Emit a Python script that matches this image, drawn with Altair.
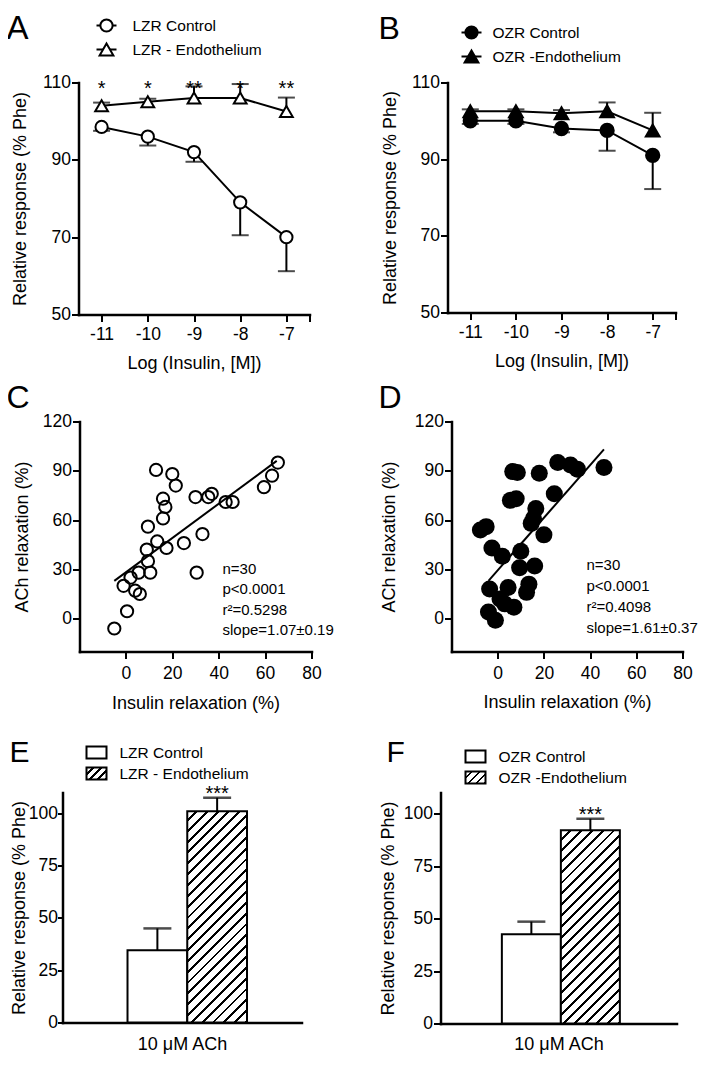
import altair as alt
import pandas as pd

FONT = "Liberation Sans"
BLACK = "#000000"

# ---------------- data ----------------
log_conc = [-11, -10, -9, -8, -7]

lzr_names = ["LZR Control", "LZR - Endothelium"]
lzr_ctrl = [98.5, 96.0, 92.0, 79.0, 70.0]
lzr_ctrl_sem = [1.0, 2.3, 2.5, 8.5, 8.8]
lzr_endo = [104.0, 105.0, 106.0, 106.0, 102.5]
lzr_endo_sem = [0.8, 0.8, 3.0, 3.6, 3.6]
lzr_stars = ["*", "*", "**", "*", "**"]

ozr_names = ["OZR Control", "OZR -Endothelium"]
ozr_ctrl = [100.0, 100.0, 98.0, 97.5, 91.0]
ozr_ctrl_sem = [0.8, 0.8, 1.0, 5.3, 8.8]
ozr_endo = [102.5, 102.5, 102.0, 102.5, 97.5]
ozr_endo_sem = [0.5, 0.5, 0.8, 2.3, 4.6]

c_insulin = [-5, 0.5, -1, 4, 6, 2, 5.5, 10.5, 9.5, 9, 9.5, 13.5, 17.5, 16, 17,
             16, 13, 20, 21.5, 25, 30, 30.5, 33, 35.5, 37, 43, 46, 59.5, 63, 65.5]
c_ach = [-6, 4.5, 20, 17, 15, 25, 28, 28, 35, 42, 56, 47, 43, 61, 68,
         73, 90.5, 88, 81, 46, 74, 28, 51.5, 74, 76, 71, 71, 80, 87, 95]
c_fit_x = [-5, 65]
c_fit_y = [23, 96]
c_stats = ["n=30", "p<0.0001", "r²=0.5298", "slope=1.07±0.19"]

d_insulin = [6.5, 18, 26, 31.5, 46, 5.5, 8, 24.5, 16.5, 14.5, -7.5, -5, 20, -2.5, 2,
             10, 9.5, 16, -3.5, 4.5, 12.5, 13.5, 3, 7, -4, -1, 34.5, 8.5, 15.5, 1]
d_ach = [89.5, 88.5, 95, 93.5, 92, 72, 73, 76, 67, 58, 54, 56, 51, 43, 38,
         41, 31, 32, 18, 19, 16, 21, 9, 7, 4, -1, 91, 89, 61, 12]
d_fit_x = [-4, 46]
d_fit_y = [23, 103]
d_stats = ["n=30", "p<0.0001", "r²=0.4098", "slope=1.61±0.37"]

e_groups = ["LZR Control", "LZR - Endothelium"]
e_mean = [34.5, 101.0]
e_sem = [10.5, 6.5]
e_stars = ["", "***"]

f_groups = ["OZR Control", "OZR -Endothelium"]
f_mean = [42.5, 92.0]
f_sem = [6.0, 5.5]
f_stars = ["", "***"]

ONE = pd.DataFrame({"k": [0]})


# ---------------- helpers ----------------
def txt(text, x, y, size, align="left", baseline="middle"):
    return alt.Chart(ONE).mark_text(
        text=text, fontSize=size, align=align, baseline=baseline, color=BLACK, font=FONT
    ).encode(x=alt.value(x), y=alt.value(y))


def hatch(W, H, period=11.0, frac=0.27):
    n = max(1, int(round((W + H) / period)))
    k = (W + H) / (W * W + H * H)
    stops = []
    for i in range(n):
        a = i / n
        b = (i + 1 - frac) / n
        c = (i + 1) / n
        stops += [
            {"offset": a, "color": "white"},
            {"offset": b, "color": "white"},
            {"offset": b, "color": "black"},
            {"offset": c, "color": "black"},
        ]
    return {"gradient": "linear", "x1": 0, "y1": 0, "x2": k * W, "y2": k * H, "stops": stops}


def anchor(x, y):
    # invisible mark that fixes the top-left extent of the whole figure
    return alt.Chart(ONE).mark_rule(strokeOpacity=0, strokeWidth=1, color="white").encode(
        x=alt.value(x), x2=alt.value(x), y=alt.value(y), y2=alt.value(y + 1))


def curve_panel(ctrl, ctrl_sem, endo, endo_sem, names, open_marker, stars,
                w, h, ox, ytp, leg_mx, leg_tx, leg_y, let, let_size, let_x, let_y, extra=None):
    df = pd.DataFrame({
        "conc": log_conc * 2,
        "group": [names[0]] * 5 + [names[1]] * 5,
        "mean": ctrl + endo,
        "end": [m - s for m, s in zip(ctrl, ctrl_sem)] + [m + s for m, s in zip(endo, endo_sem)],
    })
    xs = alt.Scale(domain=[-11.5, -6.5], nice=False, zero=False, range=[ox, ox + w])
    ys = alt.Scale(domain=[50, 110], nice=False, zero=False, range=[h, 0])
    xax = alt.Axis(values=[-11, -10, -9, -8, -7, -6.5],
                   labelExpr="datum.value == -6.5 ? '' : '-' + abs(datum.value)",
                   title="Log (Insulin, [M])", titlePadding=11, labelPadding=4)
    yax = alt.Axis(values=[50, 70, 90, 110], title="Relative response (% Phe)",
                   titlePadding=ytp, labelPadding=1, offset=-ox)
    X = alt.X("conc:Q", scale=xs, axis=xax)
    Ym = alt.Y("mean:Q", scale=ys, axis=yax)
    base = alt.Chart(df)
    err = base.mark_rule(color=BLACK, strokeWidth=2).encode(x=X, y=Ym, y2="end:Q")
    cap = base.mark_tick(color=BLACK, orient="horizontal", size=17, thickness=2).encode(
        x=X, y=alt.Y("end:Q", scale=ys, axis=yax))
    line = base.mark_line(color=BLACK, strokeWidth=2).encode(x=X, y=Ym, detail="group:N")
    fill = "white" if open_marker else BLACK
    shape_scale = alt.Scale(domain=names, range=["circle", "triangle-up"])
    size_scale = alt.Scale(domain=names, range=[150, 190])
    pts = base.mark_point(filled=True, fill=fill, stroke=BLACK, strokeWidth=2, opacity=1).encode(
        x=X, y=Ym,
        shape=alt.Shape("group:N", scale=shape_scale, legend=None),
        size=alt.Size("group:N", scale=size_scale, legend=None),
    )
    layers = [err, cap, line, pts]
    if stars:
        sdf = pd.DataFrame({"conc": log_conc, "star": stars})
        layers.append(alt.Chart(sdf).mark_text(fontSize=20, baseline="alphabetic", color=BLACK).encode(
            x=X, y=alt.value(12), text="star:N"))
    shapes = ["circle", "triangle-up"]
    sizes = [150, 190]
    for i, nm in enumerate(names):
        yy = leg_y[i]
        layers.append(alt.Chart(ONE).mark_rule(color=BLACK, strokeWidth=2).encode(
            x=alt.value(ox + leg_mx - 10), x2=alt.value(ox + leg_mx + 10), y=alt.value(yy)))
        layers.append(alt.Chart(ONE).mark_point(
            shape=shapes[i], size=sizes[i], filled=True, fill=fill, stroke=BLACK, strokeWidth=2, opacity=1
        ).encode(x=alt.value(ox + leg_mx), y=alt.value(yy)))
        layers.append(txt(nm, ox + leg_tx, yy, 15.5))
    layers.append(txt(let, ox + let_x, let_y, let_size, baseline="alphabetic"))
    if extra is not None:
        layers.append(extra)
    return alt.layer(*layers).properties(width=ox + w, height=h)


def scatter_panel(xv, yv, fx, fy, stats, open_marker, size, w, h, ox, extra_h, ytp, xtp,
                  st_x, st_y, st_dy, let, let_size, let_x, let_y):
    df = pd.DataFrame({"ins": xv, "ach": yv})
    fit = pd.DataFrame({"ins": fx, "ach": fy})
    xs = alt.Scale(domain=[-20, 80], nice=False, zero=False, range=[ox, ox + w])
    ys = alt.Scale(domain=[-20, 120], nice=False, zero=False, range=[h, 0])
    xax = alt.Axis(values=[0, 20, 40, 60, 80], title="Insulin relaxation (%)",
                   titlePadding=xtp, labelPadding=6, offset=-extra_h)
    yax = alt.Axis(values=[0, 30, 60, 90, 120], title="ACh relaxation (%)",
                   titlePadding=ytp, labelPadding=1, offset=-ox)
    X = alt.X("ins:Q", scale=xs, axis=xax)
    Y = alt.Y("ach:Q", scale=ys, axis=yax)
    if open_marker:
        pts = alt.Chart(df).mark_point(shape="circle", size=size, filled=False, stroke=BLACK,
                                       strokeWidth=2, opacity=1).encode(x=X, y=Y)
    else:
        pts = alt.Chart(df).mark_point(shape="circle", size=size, filled=True, fill=BLACK,
                                       opacity=1).encode(x=X, y=Y)
    line = alt.Chart(fit).mark_line(color=BLACK, strokeWidth=2).encode(x=X, y=Y)
    layers = [pts, line]
    for i, s in enumerate(stats):
        layers.append(txt(s, ox + st_x, st_y + i * st_dy, 15))
    layers.append(txt(let, ox + let_x, let_y, let_size, baseline="alphabetic"))
    return alt.layer(*layers).properties(width=ox + w, height=h + extra_h)


def bar_panel(groups, mean, sem, stars, w, h, align, ytp, xtp, ytick, ylp,
              leg_x, leg_y, leg_tx, let, let_size, let_x, let_y):
    po = 1.0
    df = pd.DataFrame({
        "group": groups, "mean": mean,
        "end": [m + s for m, s in zip(mean, sem)], "star": stars,
    })
    xs = alt.Scale(domain=groups, paddingInner=0, paddingOuter=po, align=align)
    ys = alt.Scale(domain=[0, 110], nice=False, zero=True)
    xax = alt.Axis(labels=False, ticks=False, title="10 μM ACh", titlePadding=xtp)
    yax = alt.Axis(values=[0, 25, 50, 75, 100], title="Relative response (% Phe)",
                   titlePadding=ytp, labelPadding=ylp, tickSize=ytick)
    X = alt.X("group:N", scale=xs, axis=xax, sort=groups)
    Xc = alt.X("group:N", scale=xs, axis=xax, sort=groups, bandPosition=0.5)
    Ym = alt.Y("mean:Q", scale=ys, axis=yax)
    bw = w / (2 + 2 * po)
    hgt = mean[1] / 110.0 * h
    base = alt.Chart(df)
    ctrl = base.transform_filter(alt.datum.group == groups[0]).mark_bar(
        fill="white", stroke=BLACK, strokeWidth=2).encode(x=X, y=Ym)
    endo = base.transform_filter(alt.datum.group == groups[1]).mark_bar(
        fill=hatch(bw, hgt), stroke=BLACK, strokeWidth=2).encode(x=X, y=Ym)
    err = base.mark_rule(color=BLACK, strokeWidth=2).encode(x=Xc, y=Ym, y2="end:Q")
    cap = base.mark_tick(color=BLACK, orient="horizontal", size=28, thickness=2.5).encode(
        x=Xc, y=alt.Y("end:Q", scale=ys, axis=yax))
    st = base.mark_text(fontSize=20, baseline="alphabetic", dy=2, color=BLACK).encode(
        x=Xc, y=alt.Y("end:Q", scale=ys, axis=yax), text="star:N")
    layers = [ctrl, endo, err, cap, st]
    # manual legend
    sw, sh = 20, 12
    fills = ["white", hatch(sw, sh, period=8.0, frac=0.3)]
    for i, nm in enumerate(groups):
        yy = leg_y[i]
        layers.append(alt.Chart(ONE).mark_rect(fill=fills[i], stroke=BLACK, strokeWidth=2).encode(
            x=alt.value(leg_x), x2=alt.value(leg_x + sw),
            y=alt.value(yy - sh / 2), y2=alt.value(yy + sh / 2)))
        layers.append(txt(nm, leg_tx, yy, 15.5))
    layers.append(txt(let, let_x, let_y, let_size, baseline="alphabetic"))
    return alt.layer(*layers).properties(width=w, height=h)


# ---------------- panels ----------------
A = curve_panel(lzr_ctrl, lzr_ctrl_sem, lzr_endo, lzr_endo_sem, lzr_names, True, lzr_stars,
                231, 232, 16, 13, 28, 54, [-57, -33], "A", 33, -72, -44, extra=anchor(-62, -90))
B = curve_panel(ozr_ctrl, ozr_ctrl_sem, ozr_endo, ozr_endo_sem, ozr_names, False, None,
                228, 230, 7, 12, 24, 45, [-50, -26], "B", 32, -69, -44)
C = scatter_panel(c_insulin, c_ach, c_fit_x, c_fit_y, c_stats, True, 150, 232, 230, 17, 34, 11, 12,
                  143, 147, 20.5, "C", 32, -73, -14)
D = scatter_panel(d_insulin, d_ach, d_fit_x, d_fit_y, d_stats, False, 290, 231, 230, 11, 34, 16, 11,
                  135, 143, 21, "D", 32, -73, -14)
E = bar_panel(e_groups, e_mean, e_sem, e_stars, 239, 230, 0.544, 0, 13, 5, 0,
              24, [-40, -19], 57, "E", 30, -53, -31)
F = bar_panel(f_groups, f_mean, f_sem, f_stars, 236, 231, 0.52, 6, 12, 7, 1,
              25, [-36, -15], 58, "F", 30, -54, -31)

chart = alt.concat(
    A, B, C, D, E, F, columns=2,
    spacing={"row": 107, "column": 129}, bounds="flush", align="each",
).properties(
    padding={"left": -7.5, "top": -15.5, "right": 0, "bottom": 0}
).configure(
    font=FONT, background="white"
).configure_view(
    stroke=None
).configure_axis(
    domainColor=BLACK, domainWidth=2.5, domainCap="square",
    tickColor=BLACK, tickWidth=2, tickSize=7,
    labelColor=BLACK, labelFontSize=17.5, labelFont=FONT,
    labelFlush=False, labelOverlap=False,
    titleColor=BLACK, titleFontSize=18, titleFont=FONT, titleFontWeight="normal",
    grid=False,
)

chart.save("out.html", embed_options={"renderer": "svg", "actions": False})
